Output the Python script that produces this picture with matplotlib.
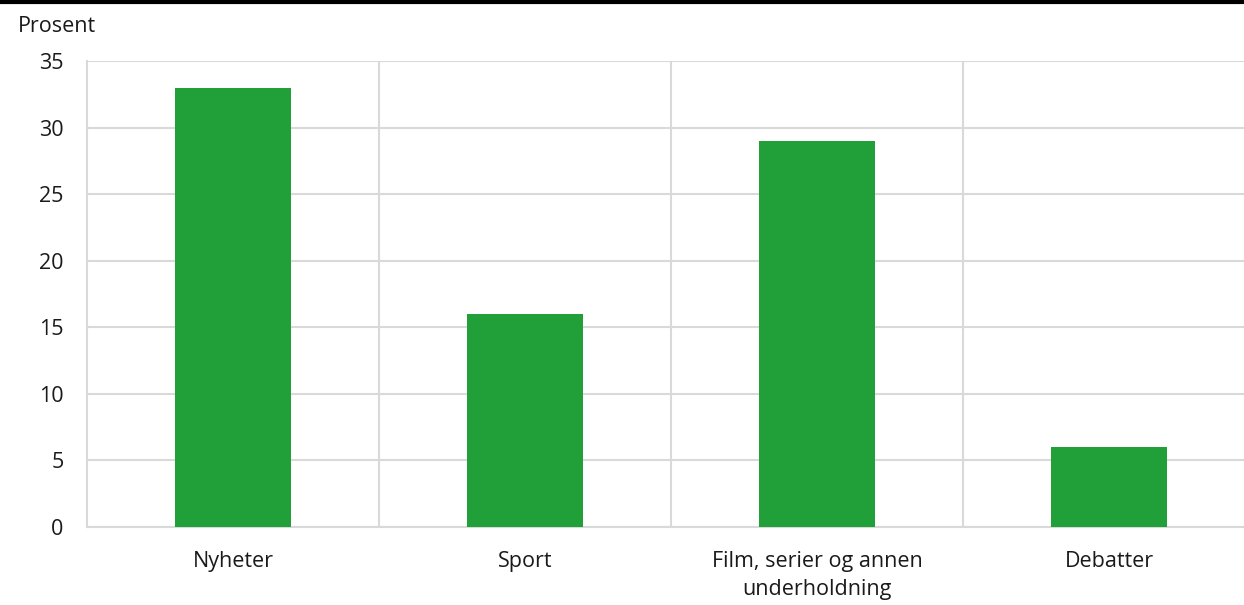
import numpy as np
import matplotlib.pyplot as plt
from matplotlib.lines import Line2D

categories = ['Nyheter', 'Sport', 'Film, serier og annen\nunderholdning', 'Debatter']
values = [33, 16, 29, 6]

plt.rcParams['font.family'] = ['Open Sans', 'DejaVu Sans']

fig = plt.figure(figsize=(12.44, 6.05), dpi=100)
ax = fig.add_axes([87 / 1244, 1 - 527 / 605, (1244 - 87) / 1244, (527 - 61) / 605])

x = np.arange(len(categories))
ax.bar(x, values, width=0.4, color='#21a03a', zorder=3)

ax.set_ylim(0, 35)
ax.set_yticks(range(0, 36, 5))
ax.set_xlim(-0.5, -0.5 + (1244 - 87) / 292)
ax.set_xticks(x)
ax.set_xticklabels(categories, linespacing=1.45)

grid_c = '#d9d9d9'
ax.yaxis.grid(True, color=grid_c, lw=1.5, zorder=0)
for b in np.arange(0.5, len(categories) - 0.5, 1.0):
    ax.axvline(b, color=grid_c, lw=1.5, zorder=0)

for s in ['top', 'right']:
    ax.spines[s].set_visible(False)
ax.spines['left'].set_color(grid_c)
ax.spines['left'].set_linewidth(1.5)
ax.spines['bottom'].set_color(grid_c)
ax.spines['bottom'].set_linewidth(1.5)
ax.tick_params(axis='both', length=0, labelsize=15.5, colors='#1a1a1a')
ax.tick_params(axis='x', pad=17)
ax.tick_params(axis='y', pad=17)

fig.text(18 / 1244, 1 - 27 / 605, 'Prosent', fontsize=15.5, va='center', ha='left', color='#1a1a1a')
fig.add_artist(Line2D([0, 1], [1 - 1.5 / 605, 1 - 1.5 / 605], color='black', lw=3, transform=fig.transFigure))

fig.savefig('out.png', dpi=100)
